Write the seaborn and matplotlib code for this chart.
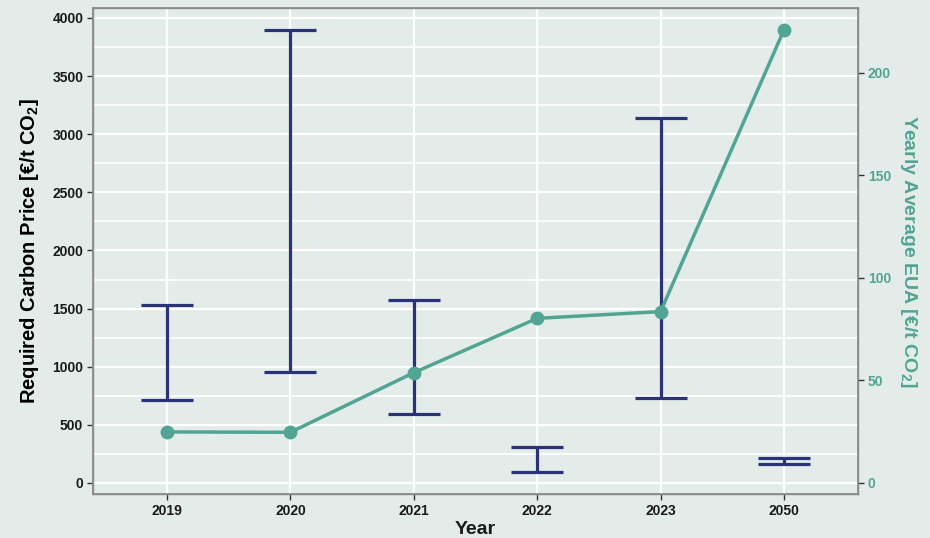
import matplotlib
matplotlib.use("Agg")
import matplotlib.pyplot as plt
import seaborn as sns
import pandas as pd
import numpy as np
from matplotlib.ticker import MultipleLocator

years = ["2019", "2020", "2021", "2022", "2023", "2050"]
price_low = [714, 955, 592, 93, 733, 162]
price_high = [1531, 3895, 1574, 311, 3140, 217]
eua = [24.9, 24.7, 53.8, 80.3, 83.6, 221.0]

BG = "#E3ECE8"
NAVY = "#2A3278"
TEAL = "#52A593"
SCALE = 0.0567  # EUA units per price unit on the secondary axis

sns.set_theme(style="darkgrid")
plt.rcParams["font.family"] = ["Liberation Sans", "DejaVu Sans"]
plt.rcParams["mathtext.fontset"] = "custom"
plt.rcParams["mathtext.rm"] = "Liberation Sans"
plt.rcParams["mathtext.default"] = "regular"

fig = plt.figure(figsize=(9.3, 5.38), dpi=100, facecolor=BG)
ax = fig.add_axes([93/930, 1 - 494/538, (858-93)/930, (494-8)/538])
ax.set_facecolor(BG)

x = np.arange(len(years))
mid = [(l + h) / 2 for l, h in zip(price_low, price_high)]
half = [(h - l) / 2 for l, h in zip(price_low, price_high)]
ax.errorbar(x, mid, yerr=half, fmt="none", ecolor=NAVY, elinewidth=2.3,
            capsize=18.5, capthick=2.3, zorder=3)

ax.set_xlim(-0.6, 5.6)
ax.set_ylim(-95, 4086)
ax.set_xticks(x)
ax.set_xticklabels(years)
ax.yaxis.set_major_locator(MultipleLocator(500))
ax.yaxis.set_minor_locator(MultipleLocator(250))
ax.grid(which="major", color="white", linewidth=1.6)
ax.grid(which="minor", axis="y", color="white", linewidth=1.2)
ax.set_axisbelow(True)
for s in ax.spines.values():
    s.set_visible(True)
    s.set_color("#8a8a8a")
    s.set_linewidth(1.0)
ax.tick_params(axis="both", which="major", length=4, width=1, color="#333333",
               labelsize=10, pad=3, left=True, bottom=True)
ax.tick_params(axis="y", which="minor", length=0)
for lab in ax.get_xticklabels() + ax.get_yticklabels():
    lab.set_fontweight("bold")
    lab.set_color("#1a1a1a")
ax.set_xlabel("Year", fontsize=14, fontweight="bold", color="#1a1a1a", labelpad=2)
ax.set_ylabel("Required Carbon Price [€/t CO$_2$]", fontsize=14.5, fontweight="bold",
              color="black", labelpad=8)

ax2 = ax.twinx()
df = pd.DataFrame({"x": x, "eua": eua})
sns.lineplot(data=df, x="x", y="eua", ax=ax2, color=TEAL, linewidth=2.5,
             marker="o", markersize=10, markeredgewidth=0, zorder=4)
ax2.set_ylim(-95 * SCALE, 4086 * SCALE)
ax2.set_xlim(-0.6, 5.6)
ax2.set_yticks([0, 50, 100, 150, 200])
ax2.grid(False)
for s in ax2.spines.values():
    s.set_color("#8a8a8a")
ax2.tick_params(axis="y", length=4, width=1, color="#333333", labelsize=10,
                labelcolor=TEAL, pad=3, right=True)
for lab in ax2.get_yticklabels():
    lab.set_fontweight("bold")
ax2.set_ylabel("Yearly Average EUA [€/t CO$_2$]", fontsize=14, fontweight="bold",
               color=TEAL, rotation=270, labelpad=20)
ax2.set_xlabel("")

fig.savefig("out.png", dpi=100, facecolor=BG)
